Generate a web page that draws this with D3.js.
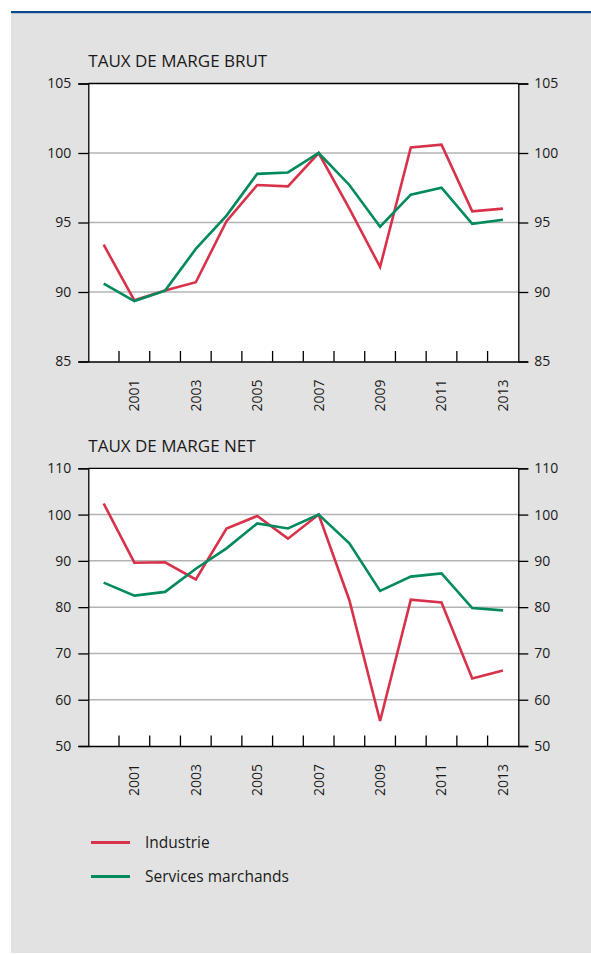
<!DOCTYPE html>
<html>
<head>
<meta charset="utf-8">
<script src="https://cdn.jsdelivr.net/npm/d3@7"></script>
<style>
	body { margin: 0; background: #ffffff; }
	text { font-family: "Open Sans", "Noto Sans", sans-serif; fill: #1a1a1a; }
</style>
</head>
<body>
<script>

// Years on the x axis
var years = [2000, 2001, 2002, 2003, 2004, 2005, 2006, 2007, 2008, 2009, 2010, 2011, 2012, 2013];

// Years that get a label
var labelYears = [2001, 2003, 2005, 2007, 2009, 2011, 2013];

// Taux de marge brut (base 100 en 2007)
var brutIndustrie = [93.4, 89.4, 90.1, 90.7, 95.1, 97.7, 97.6, 100, 96.0, 91.8, 100.4, 100.6, 95.8, 96.0];
var brutServices = [90.6, 89.35, 90.1, 93.1, 95.5, 98.5, 98.6, 100, 97.7, 94.7, 97.0, 97.5, 94.9, 95.2];

// Taux de marge net (base 100 en 2007)
var netIndustrie = [102.4, 89.6, 89.7, 86.0, 97.0, 99.7, 94.8, 100, 81.5, 55.4, 81.6, 81.0, 64.6, 66.3];
var netServices = [85.3, 82.5, 83.3, 88.3, 92.7, 98.1, 97.0, 100, 93.8, 83.5, 86.6, 87.3, 79.8, 79.3];

// Tick values
var brutTicks = [85, 90, 95, 100, 105];
var netTicks = [50, 60, 70, 80, 90, 100, 110];

var seriesNames = ["Industrie", "Services marchands"];
var seriesColors = ["#d8324b", "#008a5e"];


const width = 591;
const height = 954;

var svg = d3.select('body')
	.append('svg')
	.attr('width', width)
	.attr('height', height);

// blue rule and grey panel
svg.append('rect')
	.attr('x', 11).attr('y', 13)
	.attr('width', width - 11).attr('height', 940)
	.style('fill', '#e2e2e2');

svg.append('rect')
	.attr('x', 11).attr('y', 11)
	.attr('width', width - 11).attr('height', 2.2)
	.style('fill', '#0b4a8e');

var plotLeft = 88.3;
var plotRight = 518.3;

var xScale = d3.scaleBand().domain(years).range([plotLeft, plotRight]);


drawPanel("TAUX DE MARGE BRUT", 83.5, 361.5, [85, 105], brutTicks, [brutIndustrie, brutServices]);
drawPanel("TAUX DE MARGE NET", 468.3, 746, [50, 110], netTicks, [netIndustrie, netServices]);

drawLegend();


/*
 * Draws one framed chart with both y axes, year ticks and the two series
 */
function drawPanel(title, top, bottom, domain, ticks, series) {

	var yScale = d3.scaleLinear().domain(domain).range([bottom, top]);

	var g = svg.append('g');

	g.append('text')
		.attr('x', plotLeft)
		.attr('y', top - 16.5)
		.style('font-size', '17px')
		.text(title);

	// white plot area
	g.append('rect')
		.attr('x', plotLeft).attr('y', top)
		.attr('width', plotRight - plotLeft).attr('height', bottom - top)
		.style('fill', '#ffffff');

	// gridlines
	g.append('g').selectAll('line')
		.data(ticks.filter(d => d != domain[0] && d != domain[1]))
		.enter().append('line')
		.attr('x1', plotLeft).attr('x2', plotRight)
		.attr('y1', d => yScale(d)).attr('y2', d => yScale(d))
		.style('stroke', '#b4b4b4')
		.style('stroke-width', 1.5);

	// frame top
	g.append('line')
		.attr('x1', plotLeft).attr('x2', plotRight)
		.attr('y1', top).attr('y2', top)
		.style('stroke', '#000').style('stroke-width', 1.3);

	// y-axes
	var leftAxis = d3.axisLeft(yScale).tickValues(ticks).tickSize(10).tickPadding(7);
	var rightAxis = d3.axisRight(yScale).tickValues(ticks).tickSize(10).tickPadding(6);

	g.append('g')
		.attr('transform', `translate(${plotLeft},0)`)
		.call(leftAxis)
		.call(styleAxis);

	g.append('g')
		.attr('transform', `translate(${plotRight},0)`)
		.call(rightAxis)
		.call(styleAxis);

	// x-axis: ticks between years, pointing up
	var xAxis = d3.axisBottom(xScale).tickSize(0).tickFormat('');
	g.append('g')
		.attr('transform', `translate(0,${bottom})`)
		.call(xAxis)
		.call(styleAxis);

	g.append('g').selectAll('line')
		.data(years.slice(1))
		.enter().append('line')
		.attr('x1', d => xScale(d)).attr('x2', d => xScale(d))
		.attr('y1', bottom).attr('y2', bottom - 10.5)
		.style('stroke', '#000').style('stroke-width', 1.3);

	g.append('g').selectAll('text')
		.data(labelYears)
		.enter().append('text')
		.attr('transform', d => `translate(${xScale(d) + xScale.bandwidth() / 2},${bottom + 18}) rotate(-90)`)
		.attr('text-anchor', 'end')
		.attr('dy', '0.35em')
		.style('font-size', '14px')
		.text(d => d);

	// series
	var line = d3.line()
		.x((d, i) => xScale(years[i]) + xScale.bandwidth() / 2)
		.y(d => yScale(d));

	series.forEach(function(values, i) {
		g.append('path')
			.datum(values)
			.attr('d', line)
			.style('fill', 'none')
			.style('stroke', seriesColors[i])
			.style('stroke-width', 2.6)
			.style('stroke-linejoin', 'miter');
	});
}


// Makes the axis black and the labels the right size
function styleAxis(sel) {
	sel.select('.domain').style('stroke', '#000').style('stroke-width', 1.3);
	sel.selectAll('.tick line').style('stroke', '#000').style('stroke-width', 1.3);
	sel.selectAll('.tick text')
		.style('font-size', '14px')
		.style('fill', '#1a1a1a')
		.style('font-family', '"Open Sans", "Noto Sans", sans-serif');
}


// Legend under the second chart
function drawLegend() {

	var items = svg.append('g').selectAll('g')
		.data(seriesNames)
		.enter().append('g')
		.attr('transform', (d, i) => `translate(91,${842.5 + i * 34})`);

	items.append('line')
		.attr('x1', 0).attr('x2', 39)
		.attr('y1', 0).attr('y2', 0)
		.style('stroke', (d, i) => seriesColors[i])
		.style('stroke-width', 3);

	items.append('text')
		.attr('x', 54)
		.attr('dy', '0.35em')
		.style('font-size', '15.5px')
		.text(d => d);
}

</script>
</body>
</html>
